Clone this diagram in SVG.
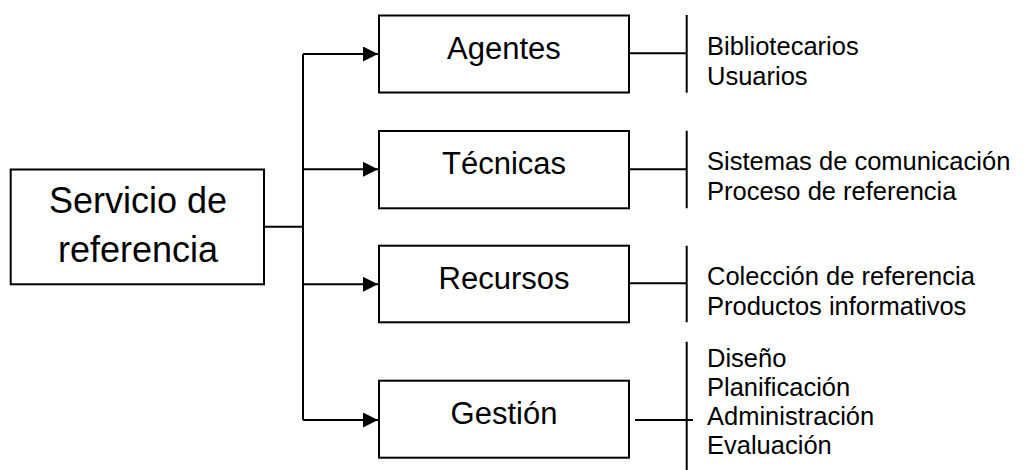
<svg xmlns="http://www.w3.org/2000/svg" width="1024" height="470" viewBox="0 0 1024 470">
<style>
.box{fill:#fff;stroke:#000;stroke-width:2}
.ln{stroke:#000;stroke-width:2;fill:none}
text{font-family:"Liberation Sans",Arial,sans-serif;fill:#000}
.main{font-size:36px;text-anchor:middle}
.lbl{font-size:31px;text-anchor:middle}
.lst{font-size:25.5px}
</style>
<defs>
<marker id="arr" markerUnits="userSpaceOnUse" markerWidth="16" markerHeight="16" refX="15" refY="7.5" orient="auto">
<path d="M0,0 L15,7.5 L0,15 Z" fill="#000"/>
</marker>
</defs>
<g id="connectors">
<path class="ln" d="M264,226.7 H303 M303,54 V420"/>
<path class="ln" d="M303,54 H378" marker-end="url(#arr)"/>
<path class="ln" d="M303,169.3 H378" marker-end="url(#arr)"/>
<path class="ln" d="M303,284.3 H378" marker-end="url(#arr)"/>
<path class="ln" d="M303,420 H378" marker-end="url(#arr)"/>
<path class="ln" d="M629,53.3 H686.7 M686.7,15 V92.7"/>
<path class="ln" d="M629,169.3 H686.7 M686.7,130.7 V208.3"/>
<path class="ln" d="M629,283.3 H686.7 M686.7,245.7 V322.3"/>
<path class="ln" d="M635,420 H693 M686.7,341.7 V470"/>
</g>
<g id="servicio">
<rect class="box" x="10.7" y="169.5" width="253.3" height="114.8"/>
<text class="main" x="138" y="213.3">Servicio de</text>
<text class="main" x="138" y="261.7">referencia</text>
</g>
<g id="agentes">
<rect class="box" x="379" y="15.5" width="250" height="77"/>
<text class="lbl" x="504" y="58.5">Agentes</text>
</g>
<g id="tecnicas">
<rect class="box" x="379" y="131" width="250" height="77.3"/>
<text class="lbl" x="504" y="174">Técnicas</text>
</g>
<g id="recursos">
<rect class="box" x="379" y="245.7" width="250" height="76.6"/>
<text class="lbl" x="504" y="289">Recursos</text>
</g>
<g id="gestion">
<rect class="box" x="379" y="380.7" width="250" height="77"/>
<text class="lbl" x="504" y="424">Gestión</text>
</g>
<g id="agentes-items">
<text class="lst" x="707" y="54.5">Bibliotecarios</text>
<text class="lst" x="707" y="84.5">Usuarios</text>
</g>
<g id="tecnicas-items">
<text class="lst" x="707" y="170">Sistemas de comunicación</text>
<text class="lst" x="707" y="200">Proceso de referencia</text>
</g>
<g id="recursos-items">
<text class="lst" x="707" y="285">Colección de referencia</text>
<text class="lst" x="707" y="315">Productos informativos</text>
</g>
<g id="gestion-items">
<text class="lst" x="707" y="367">Diseño</text>
<text class="lst" x="707" y="396">Planificación</text>
<text class="lst" x="707" y="425">Administración</text>
<text class="lst" x="707" y="454">Evaluación</text>
</g>
</svg>
